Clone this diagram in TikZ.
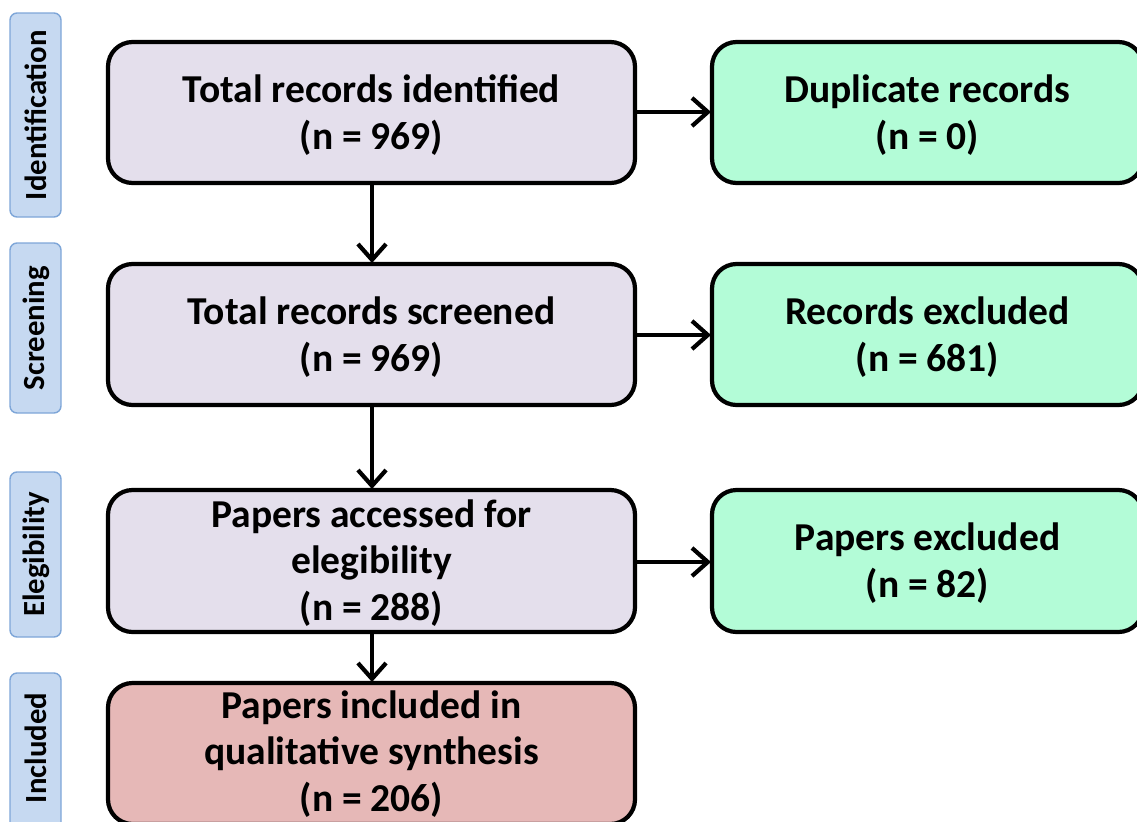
\documentclass[tikz,border=0pt]{standalone}
\usepackage{fontspec}
\setmainfont{Carlito}
\usetikzlibrary{arrows.meta}
\definecolor{lav}{HTML}{E4DFEC}
\definecolor{mint}{HTML}{B3FCD7}
\definecolor{rose}{HTML}{E6B8B7}
\definecolor{sidefill}{HTML}{C6D9F1}
\definecolor{sideline}{HTML}{7EA6D8}
\tikzset{
  mainbox/.style={draw=black, line width=2.4pt, rounded corners=14pt, fill=lav},
  sidebox/.style={draw=sideline, line width=0.8pt, rounded corners=4pt, fill=sidefill},
  boxtext/.style={align=center, font=\bfseries\fontsize{22.5}{26.4}\selectfont},
  sidetext/.style={rotate=90, font=\bfseries\fontsize{17.5}{20}\selectfont},
  flow/.style={line width=2.4pt, -{Straight Barb[length=9pt,width=16pt,line width=2.4pt]}},
}
\begin{document}
\begin{tikzpicture}[x=0.02cm,y=-0.02cm]
\useasboundingbox (0,0) rectangle (1137,822);
\begin{scope}
\clip (0,0) rectangle (1137,822);
% side labels
\draw[sidebox] (10,13) rectangle (61,217);
\node[sidetext] (lid) at (36,115) {Identification};
\draw[sidebox] (10,243) rectangle (61,413);
\node[sidetext] (lsc) at (36,328) {Screening};
\draw[sidebox] (10,472) rectangle (61,637);
\node[sidetext] (lel) at (36,554.5) {Elegibility};
\draw[sidebox] (10,673) rectangle (61,850);
\node[sidetext] (lin) at (36,748) {Included};
% main boxes
\draw[mainbox] (108,42) rectangle (635,183);
\node[boxtext] (b1) at (371.5,115) {Total records identified\\(n = 969)};
\draw[mainbox] (108,264) rectangle (635,405);
\node[boxtext] (b2) at (371.5,337) {Total records screened\\(n = 969)};
\draw[mainbox] (108,490) rectangle (635,632);
\node[boxtext] (b3) at (371.5,563) {Papers accessed for\\elegibility\\(n = 288)};
\draw[mainbox, fill=rose] (108,683) rectangle (635,824);
\node[boxtext] (b4) at (371.5,754) {Papers included in\\qualitative synthesis\\(n = 206)};
% right boxes
\draw[mainbox, fill=mint] (712,42) rectangle (1143,183);
\node[boxtext] (r1) at (927.5,115) {Duplicate records\\(n = 0)};
\draw[mainbox, fill=mint] (712,264) rectangle (1143,405);
\node[boxtext] (r2) at (927.5,337) {Records excluded\\(n = 681)};
\draw[mainbox, fill=mint] (712,490) rectangle (1143,632);
\node[boxtext] (r3) at (927.5,563) {Papers excluded\\(n = 82)};
\end{scope}
% anchors for connectors
\coordinate (b1s) at (372,184);
\coordinate (b2n) at (372,263);
\coordinate (b2s) at (372,406);
\coordinate (b3n) at (372,489);
\coordinate (b3s) at (372,633);
\coordinate (b4n) at (372,682);
\coordinate (b1e) at (636,112);
\coordinate (r1w) at (711,112);
\coordinate (b2e) at (636,335);
\coordinate (r2w) at (711,335);
\coordinate (b3e) at (636,562);
\coordinate (r3w) at (711,562);
\draw[flow] (b1s) -- (b2n);
\draw[flow] (b2s) -- (b3n);
\draw[flow] (b3s) -- (b4n);
\draw[flow] (b1e) -- (r1w);
\draw[flow] (b2e) -- (r2w);
\draw[flow] (b3e) -- (r3w);
\end{tikzpicture}
\end{document}
